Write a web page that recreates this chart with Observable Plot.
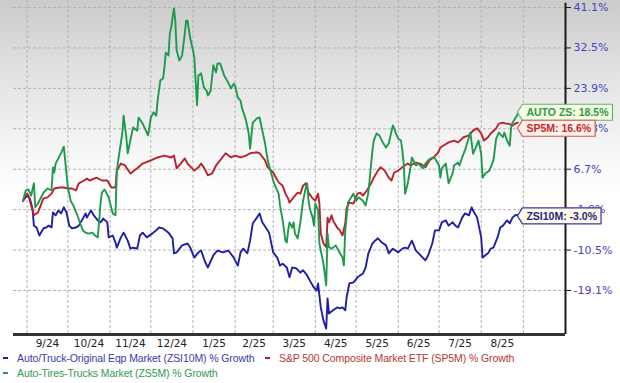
<!DOCTYPE html>
<html><head><meta charset="utf-8">
<script src="https://cdn.jsdelivr.net/npm/d3@7"></script>
<script src="https://cdn.jsdelivr.net/npm/@observablehq/plot@0.6"></script>
<style>
html,body{margin:0;padding:0;}
body{width:620px;height:383px;position:relative;overflow:hidden;background:linear-gradient(to bottom,#cbcbcb 0px,#e4e4e4 80px,#f6f6f6 150px,#ffffff 195px);font-family:"Liberation Sans",Arial,sans-serif;}
#chart svg{display:block;background:transparent;}
.leg{position:absolute;font-size:10.5px;line-height:12px;white-space:nowrap;letter-spacing:-0.1px;}
.mk{position:absolute;width:5px;height:2px;}
</style></head><body>
<div id="chart"></div>
<div id="legend"></div>
<script>
const seriesNames = ["Auto/Truck-Original Eqp Market (ZSI10M) % Growth", "S&P 500 Composite Market ETF (SP5M) % Growth", "Auto-Tires-Trucks Market (ZS5M) % Growth"];
const tagLabels = ["ZSI10M", "SP5M", "AUTO ZS"];
const lineColors = ["#1f1fa5", "#b8222a", "#1d9a4c"];
const legendColors = ["#3a3aa8", "#b83535", "#2f9a50"];
const monthLabels = ["9/24","10/24","11/24","12/24","1/25","2/25","3/25","4/25","5/25","6/25","7/25","8/25"];
const monthStarts = ["2024-09-01","2024-10-01","2024-11-01","2024-12-01","2025-01-01","2025-02-01","2025-03-01","2025-04-01","2025-05-01","2025-06-01","2025-07-01","2025-08-01","2025-09-01"];
const yTicks = [-19.1, -10.5, -1.9, 6.7, 15.3, 23.9, 32.5, 41.1];

const zsi10m = [["2024-08-29",0],["2024-09-01",1.1],["2024-09-03",0.5],["2024-09-05",-1.7],["2024-09-06",-5.3],["2024-09-08",-5.7],["2024-09-10",-7.4],["2024-09-13",-5.9],["2024-09-15",-5.7],["2024-09-17",-5.3],["2024-09-19",-5.7],["2024-09-20",-2.5],["2024-09-22",-3.1],["2024-09-24",-2.1],["2024-09-26",-2.7],["2024-09-28",-1.4],["2024-09-30",-2.5],["2024-10-02",-5.3],["2024-10-04",-5.9],["2024-10-07",-5.7],["2024-10-09",-5.3],["2024-10-12",-3.8],["2024-10-14",-2.7],["2024-10-15",-3.6],["2024-10-18",-2.1],["2024-10-20",-3.1],["2024-10-23",-4.2],["2024-10-25",-4.6],["2024-10-27",-3.8],["2024-10-30",-4.6],["2024-10-31",-7.8],["2024-11-03",-7.4],["2024-11-05",-8.9],["2024-11-06",-10.0],["2024-11-09",-7.8],["2024-11-11",-6.8],["2024-11-14",-8.5],["2024-11-16",-10.2],["2024-11-18",-10.0],["2024-11-21",-10.2],["2024-11-23",-7.4],["2024-11-25",-6.8],["2024-11-28",-7.8],["2024-12-02",-7.0],["2024-12-05",-6.3],["2024-12-07",-5.7],["2024-12-10",-5.9],["2024-12-14",-6.8],["2024-12-17",-8.0],["2024-12-18",-11.2],["2024-12-20",-11.0],["2024-12-24",-9.5],["2024-12-28",-9.1],["2024-12-30",-10.0],["2025-01-02",-12.1],["2025-01-05",-11.0],["2025-01-07",-10.6],["2025-01-10",-13.1],["2025-01-12",-14.2],["2025-01-16",-11.6],["2025-01-19",-10.6],["2025-01-23",-11.0],["2025-01-27",-10.6],["2025-01-31",-12.1],["2025-02-03",-13.8],["2025-02-05",-11.0],["2025-02-07",-10.2],["2025-02-10",-11.2],["2025-02-12",-8.5],["2025-02-14",-4.8],["2025-02-17",-3.6],["2025-02-19",-2.7],["2025-02-21",-4.6],["2025-02-24",-5.9],["2025-02-26",-6.8],["2025-03-01",-11.0],["2025-03-04",-12.1],["2025-03-06",-13.8],["2025-03-08",-13.4],["2025-03-11",-14.2],["2025-03-13",-16.3],["2025-03-15",-14.2],["2025-03-18",-14.4],["2025-03-21",-15.3],["2025-03-23",-14.8],["2025-03-26",-15.9],["2025-03-28",-17.0],["2025-03-31",-18.5],["2025-04-02",-19.1],["2025-04-03",-17.6],["2025-04-05",-22.7],["2025-04-07",-25.5],["2025-04-09",-27.2],["2025-04-10",-20.8],["2025-04-11",-24.0],["2025-04-14",-23.3],["2025-04-17",-22.7],["2025-04-19",-22.9],["2025-04-21",-22.7],["2025-04-23",-23.3],["2025-04-24",-20.6],["2025-04-26",-17.6],["2025-04-29",-17.4],["2025-05-02",-16.3],["2025-05-06",-15.5],["2025-05-08",-14.2],["2025-05-10",-11.2],["2025-05-13",-9.1],["2025-05-15",-8.5],["2025-05-17",-8.0],["2025-05-20",-8.9],["2025-05-23",-9.5],["2025-05-25",-11.2],["2025-05-28",-10.2],["2025-05-30",-10.6],["2025-06-01",-11.0],["2025-06-04",-10.2],["2025-06-06",-10.0],["2025-06-08",-10.2],["2025-06-11",-8.5],["2025-06-14",-10.6],["2025-06-16",-11.2],["2025-06-19",-12.1],["2025-06-21",-12.7],["2025-06-23",-11.6],["2025-06-26",-9.1],["2025-06-28",-6.3],["2025-07-01",-6.3],["2025-07-03",-4.6],["2025-07-06",-4.2],["2025-07-08",-5.3],["2025-07-11",-4.6],["2025-07-13",-5.3],["2025-07-15",-5.7],["2025-07-18",-3.6],["2025-07-20",-2.7],["2025-07-23",-3.1],["2025-07-25",-1.4],["2025-07-26",-2.1],["2025-07-29",-3.6],["2025-08-01",-7.8],["2025-08-02",-12.1],["2025-08-06",-11.2],["2025-08-08",-10.2],["2025-08-10",-10.0],["2025-08-13",-7.8],["2025-08-15",-5.7],["2025-08-17",-5.3],["2025-08-20",-4.2],["2025-08-22",-4.8],["2025-08-24",-3.6],["2025-08-26",-3.1],["2025-08-28",-3.0]];

const sp5m = [["2024-08-29",0],["2024-09-01",1.5],["2024-09-02",1.1],["2024-09-04",-1.0],["2024-09-06",-3.1],["2024-09-09",-2.5],["2024-09-11",-1.0],["2024-09-13",0.5],["2024-09-16",0.7],["2024-09-19",1.5],["2024-09-21",2.6],["2024-09-25",2.8],["2024-09-28",2.8],["2024-10-01",2.6],["2024-10-04",2.6],["2024-10-07",2.2],["2024-10-09",3.7],["2024-10-13",4.3],["2024-10-15",4.7],["2024-10-17",4.3],["2024-10-22",4.9],["2024-10-26",4.3],["2024-10-30",4.3],["2024-11-02",2.8],["2024-11-05",2.8],["2024-11-06",6.4],["2024-11-09",7.9],["2024-11-12",7.5],["2024-11-16",5.8],["2024-11-21",6.9],["2024-11-25",7.9],["2024-12-01",8.6],["2024-12-06",9.2],["2024-12-11",9.6],["2024-12-16",9.2],["2024-12-18",9.6],["2024-12-20",6.9],["2024-12-23",7.9],["2024-12-26",9.0],["2024-12-28",7.9],["2025-01-02",6.4],["2025-01-05",7.1],["2025-01-07",7.9],["2025-01-09",7.1],["2025-01-12",5.4],["2025-01-15",5.8],["2025-01-18",7.5],["2025-01-21",8.6],["2025-01-25",10.1],["2025-01-29",9.2],["2025-02-01",9.6],["2025-02-05",9.2],["2025-02-09",9.6],["2025-02-12",10.1],["2025-02-17",10.3],["2025-02-19",10.1],["2025-02-23",8.6],["2025-02-25",7.1],["2025-03-01",6.0],["2025-03-03",4.9],["2025-03-05",3.9],["2025-03-08",3.2],["2025-03-10",1.5],["2025-03-12",0.5],["2025-03-13",-0.4],["2025-03-16",0.7],["2025-03-19",1.7],["2025-03-21",1.5],["2025-03-23",3.2],["2025-03-25",3.7],["2025-03-27",1.7],["2025-03-30",0.5],["2025-04-01",0],["2025-04-03",1.5],["2025-04-04",-0.6],["2025-04-05",-7.0],["2025-04-07",-9.1],["2025-04-09",-9.9],["2025-04-10",-3.6],["2025-04-11",-4.6],["2025-04-13",-3.1],["2025-04-14",-4.2],["2025-04-17",-5.7],["2025-04-19",-6.3],["2025-04-21",-7.4],["2025-04-23",-4.8],["2025-04-24",-1.6],["2025-04-26",-0.4],["2025-04-29",-0.6],["2025-05-02",1.5],["2025-05-04",1.7],["2025-05-06",1.1],["2025-05-09",2.2],["2025-05-12",3.7],["2025-05-14",4.9],["2025-05-17",6.4],["2025-05-19",7.1],["2025-05-22",6.4],["2025-05-25",4.9],["2025-05-27",4.3],["2025-05-29",6.0],["2025-06-01",6.4],["2025-06-04",7.1],["2025-06-08",7.9],["2025-06-10",7.5],["2025-06-14",8.1],["2025-06-17",7.9],["2025-06-21",7.1],["2025-06-24",8.6],["2025-06-27",9.2],["2025-06-30",10.1],["2025-07-02",11.3],["2025-07-04",11.7],["2025-07-08",12.4],["2025-07-12",12.8],["2025-07-15",12.4],["2025-07-19",13.5],["2025-07-23",13.9],["2025-07-26",14.9],["2025-07-29",15.4],["2025-08-01",14.3],["2025-08-03",12.8],["2025-08-06",13.5],["2025-08-08",14.3],["2025-08-12",15.4],["2025-08-14",16.4],["2025-08-17",16.6],["2025-08-19",16.4],["2025-08-21",16.4],["2025-08-24",16.0],["2025-08-26",16.4],["2025-08-28",16.6]];

const zs5m = [["2024-08-29",0],["2024-08-31",2.2],["2024-09-02",2.4],["2024-09-04",1.1],["2024-09-06",3.7],["2024-09-07",-1.4],["2024-09-09",-0.6],["2024-09-13",1.7],["2024-09-16",2.6],["2024-09-19",2.2],["2024-09-20",7.1],["2024-09-21",6.0],["2024-09-22",7.9],["2024-09-25",9.6],["2024-09-26",10.1],["2024-09-28",11.5],["2024-10-01",2.8],["2024-10-02",1.5],["2024-10-03",0],["2024-10-05",-1.0],["2024-10-08",-3.1],["2024-10-10",-4.8],["2024-10-12",-6.3],["2024-10-14",-6.8],["2024-10-16",-7.0],["2024-10-19",-6.8],["2024-10-21",-7.4],["2024-10-23",-7.8],["2024-10-25",-0.6],["2024-10-26",1.7],["2024-10-28",2.4],["2024-10-31",0.7],["2024-11-03",-2.7],["2024-11-05",-3.1],["2024-11-06",6.4],["2024-11-07",8.6],["2024-11-10",14.3],["2024-11-11",18.1],["2024-11-13",13.5],["2024-11-14",10.1],["2024-11-17",14.3],["2024-11-18",15.6],["2024-11-21",14.9],["2024-11-22",17.7],["2024-11-25",16.4],["2024-11-29",13.9],["2024-12-01",17.7],["2024-12-03",18.8],["2024-12-05",18.1],["2024-12-06",21.3],["2024-12-08",25.6],["2024-12-10",26.0],["2024-12-11",28.3],["2024-12-12",31.5],["2024-12-14",30.9],["2024-12-15",35.6],["2024-12-16",36.9],["2024-12-18",40.9],["2024-12-19",38.3],["2024-12-20",32.0],["2024-12-22",29.8],["2024-12-24",30.9],["2024-12-26",35.6],["2024-12-27",38.3],["2024-12-28",38.3],["2024-12-30",34.5],["2025-01-01",32.0],["2025-01-02",30.5],["2025-01-03",25.2],["2025-01-04",20.3],["2025-01-05",26.6],["2025-01-07",27.1],["2025-01-09",24.1],["2025-01-11",23.4],["2025-01-12",22.4],["2025-01-14",23.4],["2025-01-16",28.8],["2025-01-18",27.3],["2025-01-19",29.2],["2025-01-21",29.2],["2025-01-24",26.6],["2025-01-26",25.6],["2025-01-29",23.9],["2025-01-31",24.9],["2025-02-01",24.5],["2025-02-03",21.9],["2025-02-05",21.3],["2025-02-06",19.8],["2025-02-09",17.1],["2025-02-11",14.3],["2025-02-12",11.1],["2025-02-14",16.6],["2025-02-17",17.5],["2025-02-19",17.7],["2025-02-21",14.9],["2025-02-23",12.2],["2025-02-25",8.6],["2025-03-01",4.3],["2025-03-03",2.8],["2025-03-05",1.5],["2025-03-06",-1.0],["2025-03-08",-4.2],["2025-03-10",-8.5],["2025-03-11",-8.9],["2025-03-12",-6.3],["2025-03-13",-4.6],["2025-03-15",-5.7],["2025-03-16",-4.6],["2025-03-17",-7.0],["2025-03-19",-8.0],["2025-03-20",-6.3],["2025-03-21",-4.6],["2025-03-23",0],["2025-03-25",2.8],["2025-03-26",3.7],["2025-03-27",0],["2025-03-28",-1.7],["2025-03-30",-3.6],["2025-03-31",-5.3],["2025-04-01",-0.6],["2025-04-03",-2.1],["2025-04-04",-9.1],["2025-04-05",-10.6],["2025-04-07",-13.4],["2025-04-09",-18.0],["2025-04-10",-7.0],["2025-04-11",-9.9],["2025-04-13",-10.2],["2025-04-16",-9.5],["2025-04-18",-10.6],["2025-04-21",-12.1],["2025-04-22",-13.8],["2025-04-23",-6.3],["2025-04-25",-0.4],["2025-04-29",1.5],["2025-05-01",0],["2025-05-03",0.7],["2025-05-06",0],["2025-05-08",-1.0],["2025-05-10",1.7],["2025-05-13",10.7],["2025-05-14",12.8],["2025-05-16",14.3],["2025-05-18",13.9],["2025-05-21",12.2],["2025-05-23",11.3],["2025-05-25",12.2],["2025-05-28",16.0],["2025-05-29",15.4],["2025-05-30",14.5],["2025-06-01",13.2],["2025-06-03",12.8],["2025-06-04",10.7],["2025-06-05",7.9],["2025-06-06",1.5],["2025-06-08",3.7],["2025-06-10",7.1],["2025-06-11",9.2],["2025-06-14",7.5],["2025-06-16",7.9],["2025-06-19",6.9],["2025-06-21",7.9],["2025-06-23",8.6],["2025-06-26",9.2],["2025-06-28",9.0],["2025-07-01",7.5],["2025-07-02",4.9],["2025-07-03",6.9],["2025-07-06",7.9],["2025-07-08",3.7],["2025-07-11",5.8],["2025-07-12",7.5],["2025-07-15",8.1],["2025-07-16",7.5],["2025-07-18",9.2],["2025-07-20",10.7],["2025-07-23",13.5],["2025-07-24",14.5],["2025-07-26",10.0],["2025-07-28",11.3],["2025-07-30",12.8],["2025-08-01",10.0],["2025-08-02",4.9],["2025-08-04",5.8],["2025-08-07",6.4],["2025-08-10",8.6],["2025-08-12",13.2],["2025-08-14",14.5],["2025-08-17",13.5],["2025-08-18",14.5],["2025-08-20",12.8],["2025-08-22",11.7],["2025-08-23",15.6],["2025-08-24",16.6],["2025-08-26",17.5],["2025-08-28",18.5]];

const seriesData = [zsi10m, sp5m, zs5m];
const toRows = (arr) => arr.map(([d, v]) => ({date: new Date(d), value: v}));
const rowsList = seriesData.map(toRows);

const yMin = -28.46, yMax = 42.59;
const xDomain = [new Date("2024-08-22"), new Date("2025-10-02")];
const ms = monthStarts.map(d => new Date(d));
const midDates = monthLabels.map((_, i) => new Date((+ms[i] + +ms[i + 1]) / 2));
const labelByTime = new Map(midDates.map((d, i) => [+d, monthLabels[i]]));
const gridStyle = {stroke: "#b3b3b3", strokeOpacity: 1, strokeWidth: 1, strokeDasharray: "3,2"};

const chart = Plot.plot({
  width: 620, height: 350,
  marginTop: 0, marginBottom: 16, marginLeft: 13, marginRight: 55,
  x: {type: "utc", domain: xDomain, label: null},
  y: {domain: [yMin, yMax], label: null},
  style: {background: "transparent", fontFamily: "DejaVu Sans, sans-serif", overflow: "visible"},
  marks: [
    Plot.gridY(yTicks, gridStyle),
    Plot.gridX(ms, gridStyle),
    ...rowsList.map((rows, i) => Plot.line(rows, {x: "date", y: "value", stroke: lineColors[i], strokeWidth: 1.9, strokeLinejoin: "round"})),
    Plot.ruleY([yMin], {stroke: "#333", strokeWidth: 3}),
    Plot.ruleX([xDomain[1]], {y1: 42, y2: yMin, stroke: "#1a1a1a", strokeWidth: 2}),
    Plot.axisY(yTicks, {anchor: "right", label: null, tickFormat: d => d.toFixed(1) + "%", tickSize: 5, tickPadding: 3, stroke: "#1a1a1a", fill: "#4646c0", fontSize: 11}),
    Plot.axisX(midDates, {anchor: "bottom", label: null, tickFormat: d => labelByTime.get(+d), tickSize: 0, tickPadding: 5, fill: "#222", fontSize: 10.5})
  ]
});
document.getElementById("chart").appendChild(chart);

// end-of-line value tags
const sx = chart.scale("x"), sy = chart.scale("y");
const tagStyles = [
  {stroke: "#3535a8", fill: "#fffbe4", color: "#1e1e88"},
  {stroke: "#d05a5a", fill: "#fdf1ea", color: "#c02a2a"},
  {stroke: "#62b862", fill: "#f3fae6", color: "#2f9a3f"}
];
const tags = seriesData.map((arr, i) => {
  const [d, v] = arr[arr.length - 1];
  return {i, label: tagLabels[i], value: v, px: sx.apply(new Date(d)), py: sy.apply(v)};
}).sort((a, b) => a.py - b.py);
let prev = -Infinity;
tags.forEach((t, k) => {
  t.cy = k === 0 ? t.py - 1 : Math.max(t.py + 1.5, prev + 16);
  prev = t.cy;
});
const svg = d3.select(chart);
const g = svg.append("g").attr("text-anchor", "start");
tags.forEach(t => {
  const st = tagStyles[t.i];
  const tg = g.append("g");
  const poly = tg.append("polygon");
  const txt = tg.append("text")
    .attr("x", t.px + 9).attr("y", t.cy).attr("dy", "0.36em")
    .attr("text-anchor", "start")
    .attr("fill", st.color)
    .attr("font-family", "Liberation Sans, Arial, sans-serif")
    .attr("font-weight", "bold").attr("font-size", 10.5)
    .text(`${t.label}: ${t.value.toFixed(1)}%`);
  const w = txt.node().getComputedTextLength() + 13;
  const h = 8;
  poly.attr("points", [[t.px, t.cy], [t.px + 5, t.cy - h], [t.px + w, t.cy - h], [t.px + w, t.cy + h], [t.px + 5, t.cy + h]].map(p => p.join(",")).join(" "))
    .attr("fill", st.fill).attr("stroke", st.stroke).attr("stroke-width", 1.2).attr("stroke-linejoin", "round");
});

// legend
const legendPos = [{x: 3, y: 352}, {x: 265, y: 352}, {x: 3, y: 367}];
const legend = document.getElementById("legend");
seriesNames.forEach((name, i) => {
  const p = legendPos[i];
  const mk = document.createElement("div");
  mk.className = "mk";
  mk.style.left = p.x + "px"; mk.style.top = (p.y + 5) + "px";
  mk.style.background = lineColors[i];
  legend.appendChild(mk);
  const tx = document.createElement("div");
  tx.className = "leg";
  tx.style.left = (p.x + 14) + "px"; tx.style.top = p.y + "px";
  tx.style.color = legendColors[i];
  tx.textContent = name;
  legend.appendChild(tx);
});
</script></body></html>
